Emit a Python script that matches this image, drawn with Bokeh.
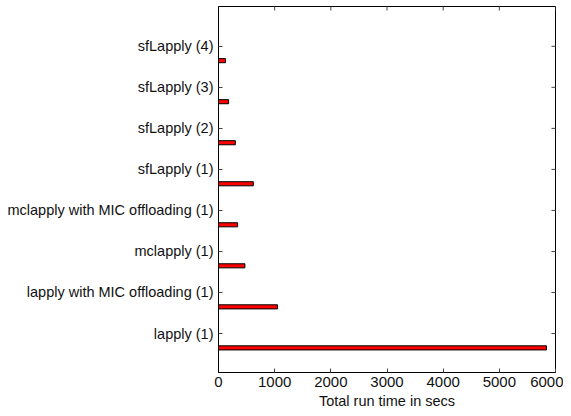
import math
from bokeh.plotting import figure
from bokeh.models import ColumnDataSource, Range1d, FixedTicker
from bokeh.embed import file_html
from bokeh.resources import INLINE

categories = ["lapply (1)", "lapply with MIC offloading (1)", "mclapply (1)",
              "mclapply with MIC offloading (1)", "sfLapply (1)", "sfLapply (2)",
              "sfLapply (3)", "sfLapply (4)"]
run_time = [5840, 1050, 470, 340, 620, 300, 180, 125]
x_ticks = [0, 1000, 2000, 3000, 4000, 5000, 6000]

X0, X1 = 0, 6000
Y0, Y1 = 0.05, 8.97
pos = list(range(1, len(categories) + 1))
bar_offset = 0.35
src = ColumnDataSource(dict(y=[p_ - bar_offset for p_ in pos], right=run_time))

p = figure(frame_width=337, frame_height=366, output_backend="svg", toolbar_location=None,
           x_range=Range1d(X0, X1), y_range=Range1d(Y0, Y1),
           min_border_left=218, min_border_right=8, min_border_top=6, min_border_bottom=30)
p.hbar(y="y", left=0, right="right", height=0.1, source=src,
       fill_color="#ff0000", line_color="black", line_width=1)

# mirrored inward ticks on the right and top edges
p.scatter(x=[X1] * len(pos), y=pos, marker="dash", size=8, line_color="#444444")
p.scatter(x=x_ticks, y=[Y1] * len(x_ticks), marker="dash", size=8, angle=math.pi / 2,
          line_color="#444444")

p.grid.visible = False
p.outline_line_color = "black"
p.outline_line_width = 1

font = "Liberation Sans"
xa = p.xaxis[0]
xa.ticker = FixedTicker(ticks=x_ticks)
xa.axis_label = "Total run time in secs"
xa.axis_label_text_font = font
xa.axis_label_text_font_size = "14.5px"
xa.axis_label_text_font_style = "normal"
xa.axis_label_standoff = 3
xa.major_label_text_font = font
xa.major_label_text_font_size = "15px"
xa.major_label_standoff = 4

ya = p.yaxis[0]
ya.ticker = FixedTicker(ticks=pos)
ya.major_label_overrides = {p_: c for p_, c in zip(pos, categories)}
ya.major_label_text_font = font
ya.major_label_text_font_size = "14.5px"
ya.major_label_standoff = 5

for ax in (xa, ya):
    ax.major_tick_in = 4
    ax.major_tick_out = 0
    ax.minor_tick_line_color = None
    ax.axis_line_color = "black"
    ax.major_tick_line_color = "#444444"
    ax.major_label_text_color = "#111111"
    ax.axis_label_text_color = "#111111"

open("out.html", "w").write(file_html(p, INLINE))
